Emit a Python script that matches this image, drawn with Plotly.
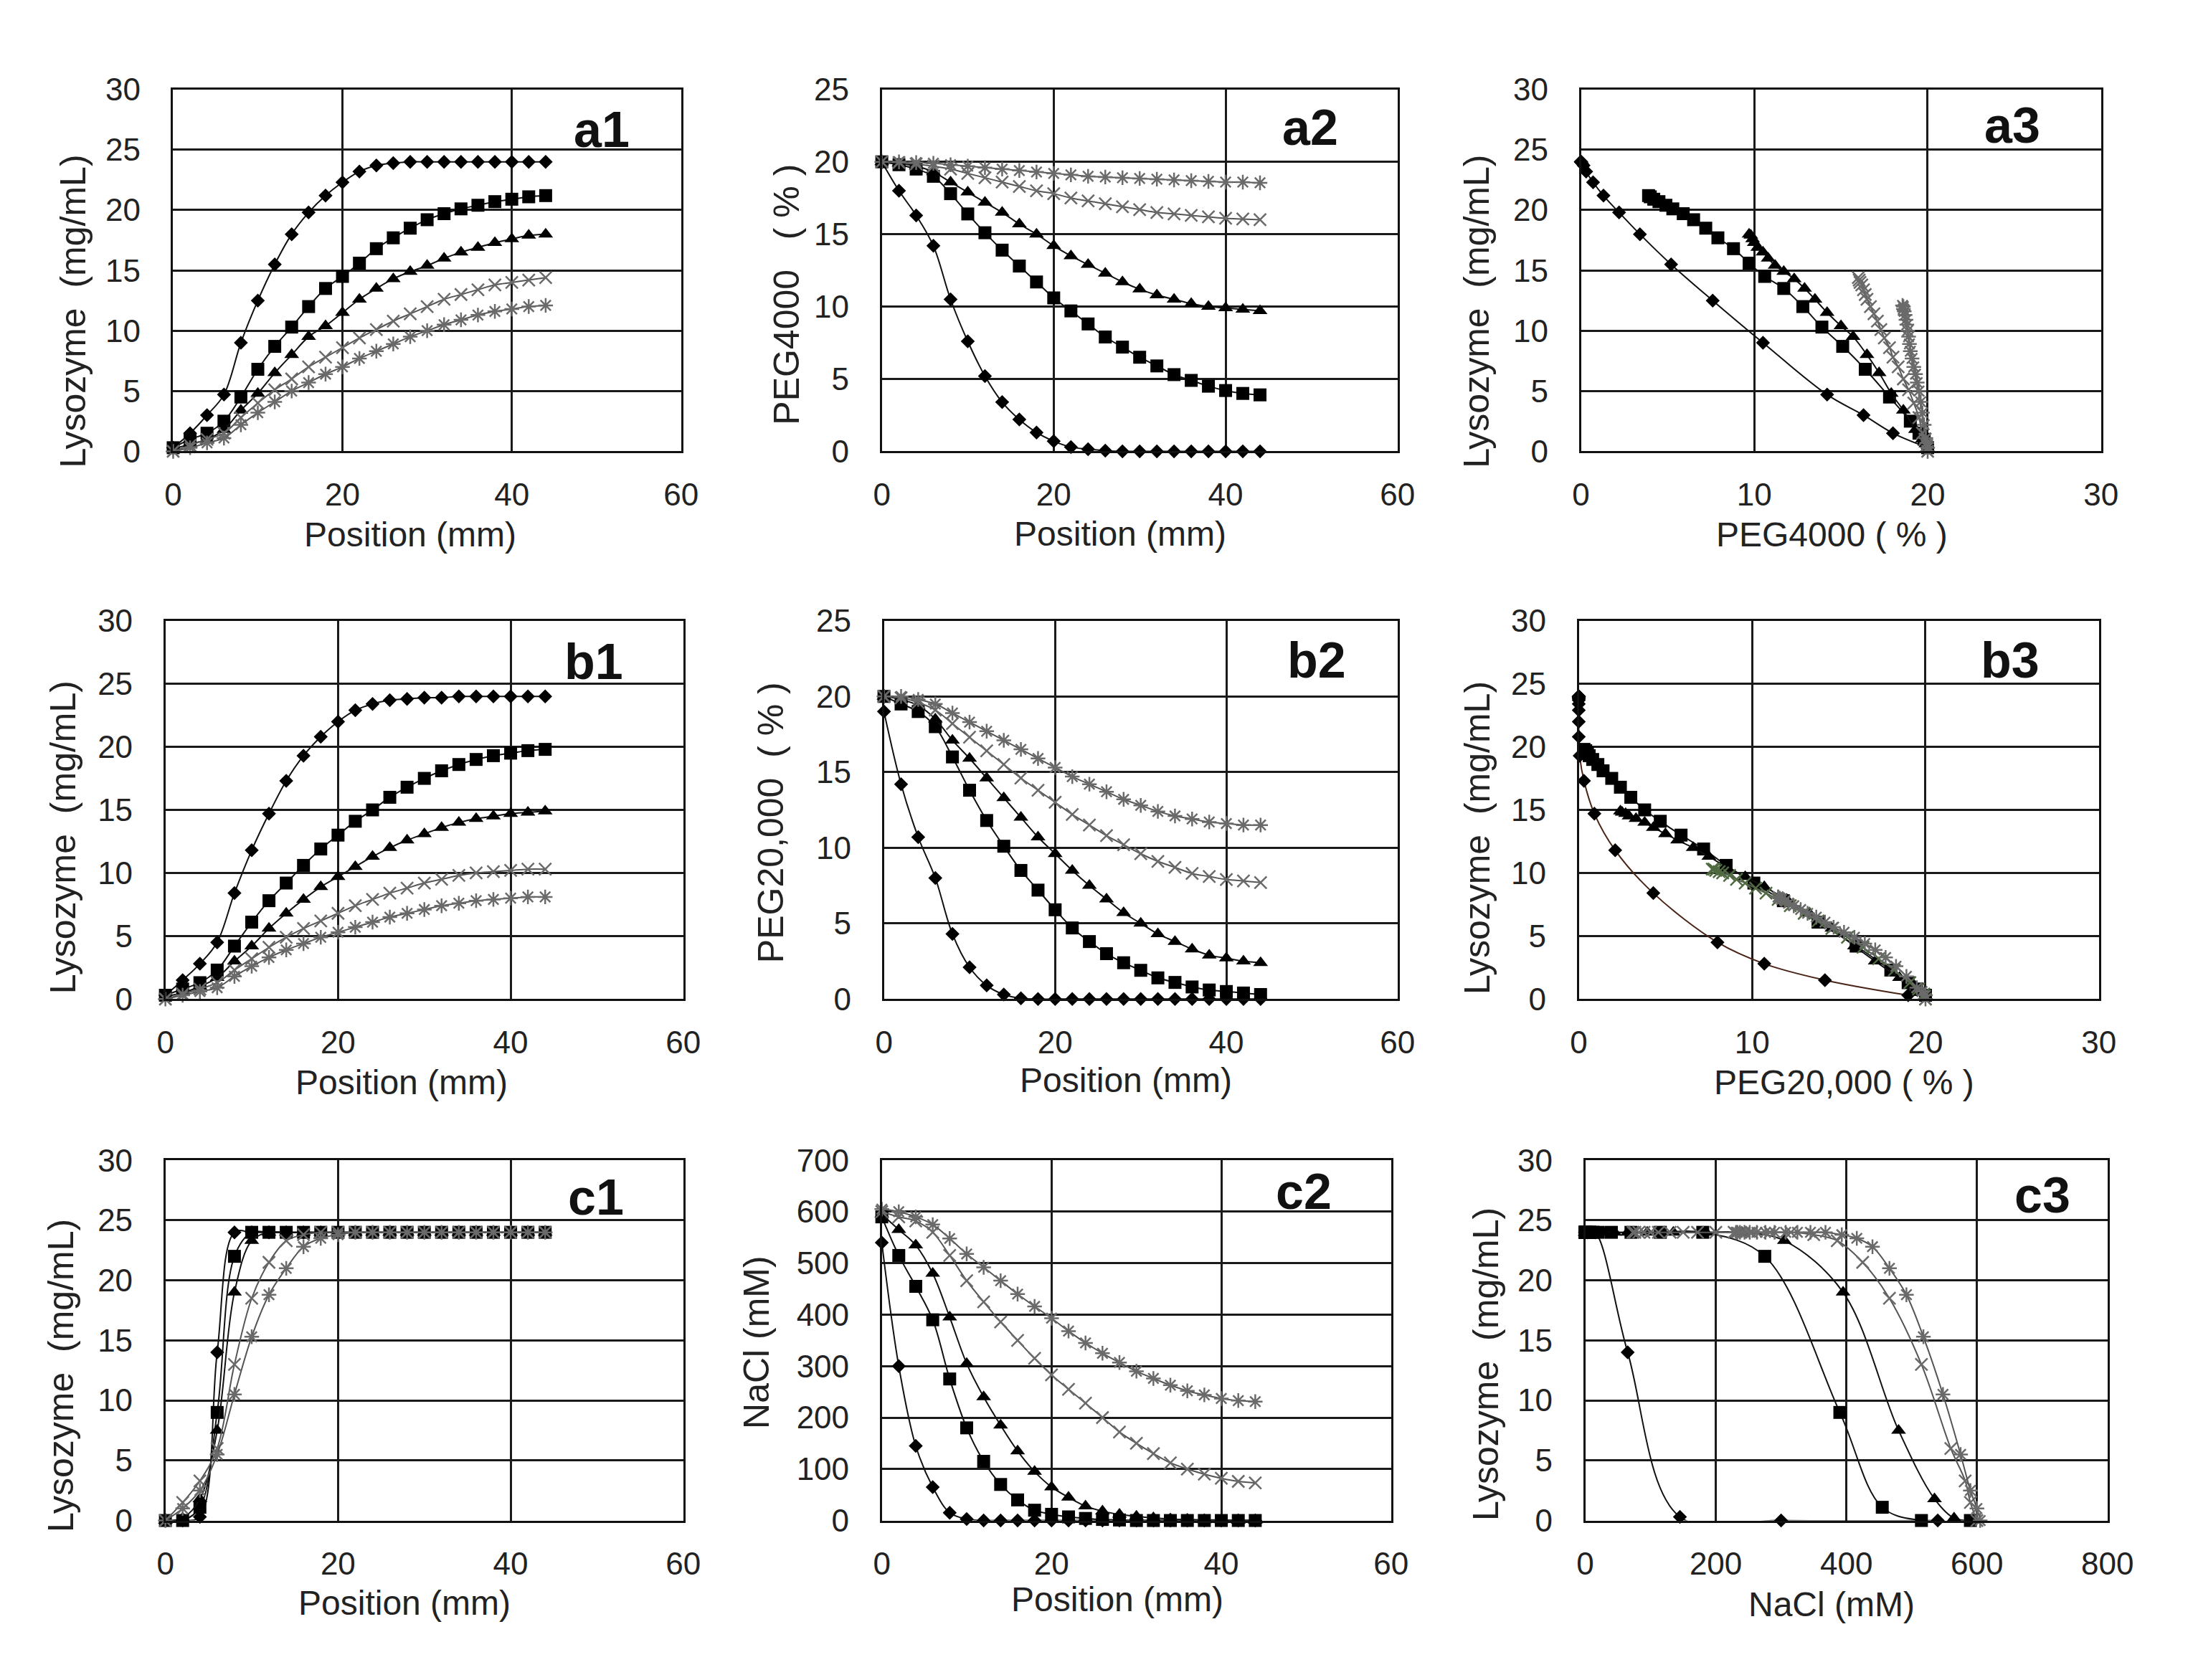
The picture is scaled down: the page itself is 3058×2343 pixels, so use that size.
import plotly.graph_objects as go

# ---------------- data ----------------
POSITION = [0, 2, 4, 6, 8, 10, 12, 14, 16, 18, 20, 22, 24, 26, 28, 30, 32, 34, 36, 38, 40, 42, 44]

# a1: Lysozyme (mg/mL) vs position, PEG4000 system
A1_DIAMOND = [0.3, 1.5, 3.0, 4.7, 9.0, 12.5, 15.5, 18.0, 19.8, 21.2, 22.3, 23.2, 23.7, 23.9, 24.0, 24.0, 24.0, 24.0, 24.0, 24.0, 24.0, 24.0, 24.0]
A1_SQUARE = [0.3, 1.0, 1.5, 2.5, 4.5, 6.8, 8.7, 10.3, 12.0, 13.5, 14.5, 15.6, 16.8, 17.7, 18.5, 19.2, 19.7, 20.1, 20.4, 20.7, 20.9, 21.1, 21.2]
A1_TRIANGLE = [0.2, 0.6, 1.0, 1.8, 3.4, 4.8, 6.5, 8.0, 9.5, 10.4, 11.5, 12.6, 13.5, 14.3, 14.9, 15.4, 16.0, 16.5, 16.9, 17.3, 17.6, 17.9, 18.0]
A1_CROSS = [0.0, 0.5, 1.0, 1.5, 2.8, 4.0, 5.1, 6.0, 7.0, 7.8, 8.6, 9.4, 10.1, 10.8, 11.4, 12.0, 12.6, 13.0, 13.4, 13.8, 14.0, 14.2, 14.4]
A1_STAR = [0.0, 0.3, 0.7, 1.1, 2.2, 3.2, 4.1, 5.0, 5.7, 6.4, 7.0, 7.7, 8.3, 8.9, 9.5, 10.0, 10.5, 10.9, 11.3, 11.6, 11.8, 12.0, 12.1]

# a2: PEG4000 (%) vs position
A2_DIAMOND = [20.0, 18.0, 16.3, 14.2, 10.5, 7.6, 5.2, 3.4, 2.2, 1.3, 0.7, 0.3, 0.15, 0.05, 0.0, 0.0, 0.0, 0.0, 0.0, 0.0, 0.0, 0.0, 0.0]
A2_SQUARE = [20.0, 19.8, 19.5, 19.0, 17.8, 16.4, 15.1, 13.9, 12.8, 11.7, 10.6, 9.7, 8.8, 7.9, 7.2, 6.5, 5.9, 5.3, 4.9, 4.5, 4.2, 4.0, 3.9]
A2_TRIANGLE = [20.0, 19.9, 19.7, 19.3, 18.6, 17.9, 17.2, 16.5, 15.7, 15.0, 14.2, 13.5, 12.9, 12.3, 11.7, 11.2, 10.8, 10.5, 10.2, 10.0, 9.9, 9.8, 9.7]
A2_CROSS = [20.0, 19.95, 19.85, 19.7, 19.5, 19.2, 18.9, 18.6, 18.3, 18.0, 17.8, 17.5, 17.3, 17.1, 16.9, 16.7, 16.5, 16.4, 16.3, 16.2, 16.1, 16.05, 16.0]
A2_STAR = [20.0, 20.0, 19.95, 19.9, 19.8, 19.7, 19.6, 19.5, 19.4, 19.3, 19.2, 19.1, 19.0, 18.95, 18.9, 18.85, 18.8, 18.75, 18.7, 18.65, 18.6, 18.6, 18.55]

# b1: Lysozyme (mg/mL) vs position, PEG20,000 system
B1_DIAMOND = [0.3, 1.5, 2.8, 4.5, 8.4, 11.8, 14.7, 17.3, 19.3, 20.8, 22.0, 22.9, 23.4, 23.7, 23.8, 23.9, 23.9, 24.0, 24.0, 24.0, 24.0, 24.0, 24.0]
B1_SQUARE = [0.3, 0.8, 1.3, 2.3, 4.2, 6.1, 7.8, 9.2, 10.6, 11.9, 13.0, 14.1, 15.0, 16.0, 16.8, 17.5, 18.1, 18.6, 19.0, 19.3, 19.5, 19.7, 19.8]
B1_TRIANGLE = [0.2, 0.5, 1.0, 1.7, 3.0, 4.2, 5.6, 6.8, 7.9, 8.9, 9.7, 10.5, 11.3, 12.0, 12.6, 13.1, 13.6, 14.0, 14.3, 14.5, 14.7, 14.8, 14.9]
B1_CROSS = [0.0, 0.4, 0.8, 1.3, 2.3, 3.2, 4.1, 4.9, 5.6, 6.2, 6.8, 7.4, 7.9, 8.4, 8.8, 9.2, 9.5, 9.8, 10.0, 10.1, 10.2, 10.3, 10.3]
B1_STAR = [0.0, 0.3, 0.6, 0.9, 1.8, 2.6, 3.3, 3.9, 4.4, 4.9, 5.3, 5.7, 6.1, 6.5, 6.8, 7.1, 7.4, 7.6, 7.8, 7.9, 8.0, 8.1, 8.1]

# b2: PEG20,000 (%) vs position
B2_DIAMOND = [19.0, 14.2, 10.7, 8.0, 4.3, 2.1, 0.9, 0.3, 0.05, 0.0, 0.0, 0.0, 0.0, 0.0, 0.0, 0.0, 0.0, 0.0, 0.0, 0.0, 0.0, 0.0, 0.0]
B2_SQUARE = [20.0, 19.5, 19.0, 18.0, 16.0, 13.8, 11.8, 10.1, 8.5, 7.2, 5.9, 4.7, 3.8, 3.0, 2.4, 1.9, 1.4, 1.1, 0.8, 0.6, 0.5, 0.4, 0.3]
B2_TRIANGLE = [20.0, 19.8, 19.4, 18.5, 17.1, 15.9, 14.6, 13.3, 12.0, 10.7, 9.6, 8.5, 7.5, 6.6, 5.7, 5.0, 4.3, 3.8, 3.3, 2.9, 2.7, 2.5, 2.4]
B2_CROSS = [20.0, 19.9, 19.6, 19.1, 18.2, 17.3, 16.4, 15.5, 14.6, 13.8, 13.0, 12.2, 11.5, 10.8, 10.2, 9.6, 9.1, 8.7, 8.3, 8.1, 7.9, 7.8, 7.7]
B2_STAR = [20.0, 20.0, 19.8, 19.5, 18.9, 18.3, 17.7, 17.1, 16.5, 15.9, 15.3, 14.7, 14.2, 13.7, 13.2, 12.8, 12.4, 12.1, 11.9, 11.7, 11.6, 11.5, 11.5]

# c1: Lysozyme (mg/mL) vs position, NaCl system
C1_DIAMOND = [0.0, 0.0, 0.3, 14.0, 24.0, 24.0, 24.0, 24.0, 24.0, 24.0, 24.0, 24.0, 24.0, 24.0, 24.0, 24.0, 24.0, 24.0, 24.0, 24.0, 24.0, 24.0, 24.0]
C1_SQUARE = [0.0, 0.0, 1.1, 9.0, 22.0, 24.0, 24.0, 24.0, 24.0, 24.0, 24.0, 24.0, 24.0, 24.0, 24.0, 24.0, 24.0, 24.0, 24.0, 24.0, 24.0, 24.0, 24.0]
C1_TRIANGLE = [0.0, 0.2, 1.8, 7.5, 19.0, 23.3, 24.0, 24.0, 24.0, 24.0, 24.0, 24.0, 24.0, 24.0, 24.0, 24.0, 24.0, 24.0, 24.0, 24.0, 24.0, 24.0, 24.0]
C1_CROSS = [0.0, 1.5, 3.3, 6.0, 13.0, 18.5, 21.5, 23.3, 23.8, 24.0, 24.0, 24.0, 24.0, 24.0, 24.0, 24.0, 24.0, 24.0, 24.0, 24.0, 24.0, 24.0, 24.0]
C1_STAR = [0.0, 1.0, 2.5, 5.5, 10.5, 15.3, 18.8, 21.0, 22.8, 23.5, 23.8, 24.0, 24.0, 24.0, 24.0, 24.0, 24.0, 24.0, 24.0, 24.0, 24.0, 24.0, 24.0]

# c2: NaCl (mM) vs position
C2_DIAMOND = [540, 300, 145, 65, 15, 3, 0, 0, 0, 0, 0, 0, 0, 0, 0, 0, 0, 0, 0, 0, 0, 0, 0]
C2_SQUARE = [590, 515, 455, 390, 275, 180, 115, 70, 40, 20, 12, 7, 4, 2, 1, 0, 0, 0, 0, 0, 0, 0, 0]
C2_TRIANGLE = [595, 565, 535, 480, 395, 305, 240, 185, 135, 95, 65, 45, 28, 18, 12, 8, 5, 3, 2, 1, 1, 0, 0]
C2_CROSS = [600, 590, 582, 560, 515, 466, 425, 386, 350, 315, 283, 255, 228, 200, 172, 150, 130, 112, 100, 90, 82, 76, 73]
C2_STAR = [605, 600, 590, 575, 548, 518, 492, 466, 440, 416, 393, 368, 345, 325, 307, 290, 276, 263, 252, 244, 237, 233, 231]

PANEL_LABELS = ["a1", "a2", "a3", "b1", "b2", "b3", "c1", "c2", "c3"]
X_TITLES = ["Position (mm)", "Position (mm)", "PEG4000 ( % )",
            "Position (mm)", "Position (mm)", "PEG20,000 ( % )",
            "Position (mm)", "Position (mm)", "NaCl (mM)"]
Y_TITLES = ["Lysozyme  (mg/mL)", "PEG4000   ( % )", "Lysozyme  (mg/mL)",
            "Lysozyme  (mg/mL)", "PEG20,000  ( % )", "Lysozyme  (mg/mL)",
            "Lysozyme  (mg/mL)", "NaCl (mM)", "Lysozyme  (mg/mL)"]
X_RANGES = [(0, 60, 20), (0, 60, 20), (0, 30, 10),
            (0, 60, 20), (0, 60, 20), (0, 30, 10),
            (0, 60, 20), (0, 60, 20), (0, 800, 200)]
Y_RANGES = [(0, 30, 5), (0, 25, 5), (0, 30, 5),
            (0, 30, 5), (0, 25, 5), (0, 30, 5),
            (0, 30, 5), (0, 700, 100), (0, 30, 5)]

# ---------------- layout geometry ----------------
X_DOMAINS = [(0.0736, 0.309), (0.402, 0.641), (0.726, 0.967),
             (0.070, 0.310), (0.403, 0.641), (0.725, 0.966),
             (0.070, 0.310), (0.402, 0.638), (0.728, 0.970)]
Y_DOMAINS = [(0.740, 0.960)] * 3 + [(0.407, 0.637)] * 3 + [(0.090, 0.309)] * 3
XT_SHIFT = [(-24, -116), (-27, -115), (-13, -116),
            (-32, -116), (-21, -113), (7, -116),
            (-28, -115), (-27, -110), (-21, -117)]
YT_SHIFT = [(-139, -57), (-133, -34), (-145, -57),
            (-143, -38), (-158, -18), (-142, -39),
            (-145, -49), (-174, -3), (-138, -33)]
LABEL_POS = [(0.843, 0.889), (0.831, 0.894), (0.830, 0.901),
             (0.827, 0.891), (0.842, 0.896), (0.830, 0.896),
             (0.831, 0.897), (0.828, 0.913), (0.876, 0.903)]

STYLES = {
    "diamond": dict(symbol="diamond", size=15, color="#000000", lw=0, lc="#111111"),
    "square": dict(symbol="square", size=18, color="#000000", lw=0, lc="#111111"),
    "triangle": dict(symbol="triangle-up", size=18, color="#000000", lw=0, lc="#111111"),
    "cross": dict(symbol="x-thin-open", size=17, color="#6a6a6a", lw=2.5, lc="#555555"),
    "star": dict(symbol="asterisk-open", size=17, color="#6a6a6a", lw=2.5, lc="#555555"),
}
# small colour tints seen in panel b3
OVERRIDES = {(6, "diamond"): dict(lc="#4a2416"), (6, "cross"): dict(color="#4f6a40")}

FONT = "Liberation Sans, Arial, sans-serif"

fig = go.Figure()


def add_series(panel, xs, ys, key):
    st = dict(STYLES[key])
    st.update(OVERRIDES.get((panel, key), {}))
    suffix = "" if panel == 1 else str(panel)
    fig.add_trace(go.Scatter(
        x=xs, y=ys, mode="lines+markers",
        line=dict(color=st["lc"], width=2, shape="spline", smoothing=1.0),
        marker=dict(symbol=st["symbol"], size=st["size"], color=st["color"],
                    line=dict(width=st["lw"], color=st["color"])),
        xaxis="x" + suffix, yaxis="y" + suffix,
        showlegend=False, cliponaxis=False, hoverinfo="x+y",
    ))


profile_sets = [
    (1, [A1_DIAMOND, A1_SQUARE, A1_TRIANGLE, A1_CROSS, A1_STAR]),
    (2, [A2_DIAMOND, A2_SQUARE, A2_TRIANGLE, A2_CROSS, A2_STAR]),
    (4, [B1_DIAMOND, B1_SQUARE, B1_TRIANGLE, B1_CROSS, B1_STAR]),
    (5, [B2_DIAMOND, B2_SQUARE, B2_TRIANGLE, B2_CROSS, B2_STAR]),
    (7, [C1_DIAMOND, C1_SQUARE, C1_TRIANGLE, C1_CROSS, C1_STAR]),
    (8, [C2_DIAMOND, C2_SQUARE, C2_TRIANGLE, C2_CROSS, C2_STAR]),
]
KEYS = ["diamond", "square", "triangle", "cross", "star"]

for panel, series in profile_sets:
    for key, ys in zip(KEYS, series):
        add_series(panel, POSITION, ys, key)

# phase plots: x = precipitant concentration (column 2), y = lysozyme (column 1)
phase_sets = [
    (3, [A2_DIAMOND, A2_SQUARE, A2_TRIANGLE, A2_CROSS, A2_STAR],
        [A1_DIAMOND, A1_SQUARE, A1_TRIANGLE, A1_CROSS, A1_STAR]),
    (6, [B2_DIAMOND, B2_SQUARE, B2_TRIANGLE, B2_CROSS, B2_STAR],
        [B1_DIAMOND, B1_SQUARE, B1_TRIANGLE, B1_CROSS, B1_STAR]),
    (9, [C2_DIAMOND, C2_SQUARE, C2_TRIANGLE, C2_CROSS, C2_STAR],
        [C1_DIAMOND, C1_SQUARE, C1_TRIANGLE, C1_CROSS, C1_STAR]),
]
for panel, xs_list, ys_list in phase_sets:
    for key, xs, ys in zip(KEYS, xs_list, ys_list):
        add_series(panel, xs, ys, key)

layout = dict(
    width=3058, height=2343,
    margin=dict(l=0, r=0, t=0, b=0),
    paper_bgcolor="white", plot_bgcolor="white",
    font=dict(family=FONT, color="#222222"),
    showlegend=False,
)

annotations = []
for i in range(9):
    p = i + 1
    suffix = "" if p == 1 else str(p)
    x0, x1, dx = X_RANGES[i]
    y0, y1, dy = Y_RANGES[i]
    common = dict(showline=True, linecolor="#111111", linewidth=2.5, mirror=True,
                  showgrid=True, gridcolor="#1a1a1a", gridwidth=2.5,
                  zeroline=False, ticks="",
                  tickfont=dict(size=44, family=FONT, color="#222222"),
                  fixedrange=True)
    layout["xaxis" + suffix] = dict(domain=list(X_DOMAINS[i]), range=[x0, x1], dtick=dx, tick0=0,
                                    anchor="y" + suffix, ticklabelstandoff=20, **common)
    layout["yaxis" + suffix] = dict(domain=list(Y_DOMAINS[i]), range=[y0, y1], dtick=dy, tick0=0,
                                    anchor="x" + suffix, ticklabelstandoff=34, **common)
    xr = "x" + suffix + " domain"
    yr = "y" + suffix + " domain"
    # panel label
    lx, ly = LABEL_POS[i]
    annotations.append(dict(text="<b>%s</b>" % PANEL_LABELS[i], xref=xr, yref=yr, x=lx, y=ly,
                            showarrow=False, xanchor="center", yanchor="middle",
                            font=dict(size=70, family=FONT, color="#111111")))
    # x title
    sx, sy = XT_SHIFT[i]
    annotations.append(dict(text=X_TITLES[i], xref=xr, yref=yr, x=0.5, y=0, xshift=sx, yshift=sy,
                            showarrow=False, xanchor="center", yanchor="middle",
                            font=dict(size=48, family=FONT, color="#222222")))
    # y title
    tx, ty = YT_SHIFT[i]
    annotations.append(dict(text=Y_TITLES[i], xref=xr, yref=yr, x=0, y=0.5, xshift=tx, yshift=ty,
                            showarrow=False, xanchor="center", yanchor="middle", textangle=-90,
                            font=dict(size=50, family=FONT, color="#222222")))

layout["annotations"] = annotations
fig.update_layout(**layout)

fig.write_html("out.html")
